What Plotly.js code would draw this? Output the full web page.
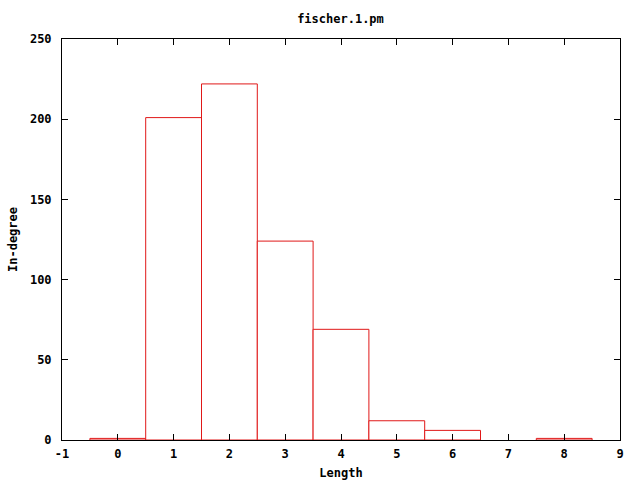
<!DOCTYPE html>
<html>
<head>
<meta charset="utf-8">
<script src="https://cdn.plot.ly/plotly-3.0.1.min.js"></script>
<style>html,body{margin:0;padding:0;background:#fff;}</style>
</head>
<body>
<div id="chart" style="width:640px;height:480px;"></div>
<script>
const lengths = [0, 1, 2, 3, 4, 5, 6, 7, 8];
const inDegree = [1, 201, 222, 124, 69, 12, 6, 0, 1];
const xTicks = [-1, 0, 1, 2, 3, 4, 5, 6, 7, 8, 9];
const yTicks = [0, 50, 100, 150, 200, 250];

const fnt = {family: "DejaVu Sans Mono, monospace", size: 12, color: "#000", weight: "bold"};
const barRed = "#e01818";

const trace = {
  type: "bar",
  x: lengths,
  y: inDegree,
  width: 1,
  marker: {
    color: "#ffffff",
    line: {color: inDegree.map(v => v > 0 ? barRed : "rgba(0,0,0,0)"), width: 1}
  },
  hoverinfo: "skip"
};

const axisCommon = {
  showline: true, mirror: "ticks", linecolor: "#000", linewidth: 1,
  ticks: "inside", ticklen: 6, tickcolor: "#000", tickwidth: 1,
  showgrid: false, zeroline: false, tickfont: fnt, layer: "above traces"
};

const layout = {
  width: 640, height: 480,
  margin: {l: 62, r: 20, t: 39, b: 40},
  paper_bgcolor: "#fff", plot_bgcolor: "#fff",
  showlegend: false,
  title: {text: "fischer.1.pm", font: fnt, x: 0.532, xanchor: "center", y: 0.96, yanchor: "middle"},
  xaxis: Object.assign({}, axisCommon, {
    range: [-1, 9], tickvals: xTicks, ticktext: xTicks.map(String),
    ticklabelstandoff: 3,
    title: {text: "Length", font: fnt, standoff: 8}
  }),
  yaxis: Object.assign({}, axisCommon, {
    range: [0, 250], tickvals: yTicks, ticktext: yTicks.map(String),
    ticklabelstandoff: 7,
    title: {text: "In-degree", font: fnt, standoff: 9}
  })
};

Plotly.newPlot("chart", [trace], layout, {staticPlot: true, displayModeBar: false});
</script>
</body>
</html>
